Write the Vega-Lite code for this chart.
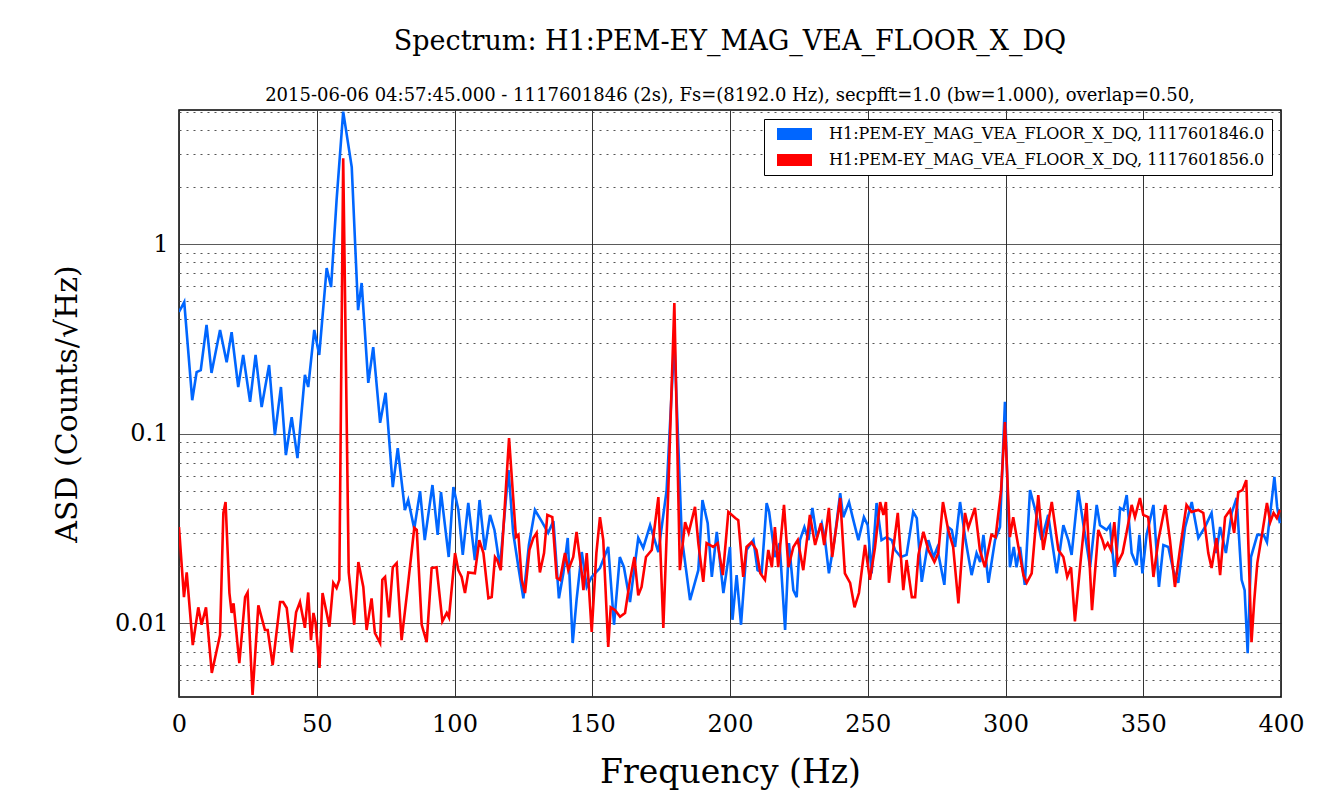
{
  "$schema": "https://vega.github.io/schema/vega-lite/v6.json",
  "width": 1102,
  "height": 587,
  "autosize": {"type": "none"},
  "padding": {"left": 179, "top": 110, "right": 60, "bottom": 102},
  "background": "white",
  "title": {
    "text": "Spectrum: H1:PEM-EY_MAG_VEA_FLOOR_X_DQ",
    "subtitle": "2015-06-06 04:57:45.000 - 1117601846 (2s), Fs=(8192.0 Hz), secpfft=1.0 (bw=1.000), overlap=0.50,",
    "font": "DejaVu Serif",
    "fontSize": 27,
    "fontWeight": "normal",
    "color": "#000",
    "subtitleFont": "DejaVu Serif",
    "subtitleFontSize": 18,
    "subtitleColor": "#000",
    "anchor": "middle",
    "offset": -6,
    "subtitlePadding": 31
  },
  "config": {
    "view": {"stroke": "#000", "strokeWidth": 1.5},
    "axis": {
      "labelFont": "DejaVu Serif",
      "titleFont": "DejaVu Serif",
      "labelColor": "#000",
      "titleColor": "#000",
      "titleFontWeight": "normal",
      "domain": false,
      "ticks": false
    }
  },
  "data": {
    "values": [
      {"t":"1117601846.0","f":0,"v":0.438},{"t":"1117601846.0","f":1.9,"v":0.494},{"t":"1117601846.0","f":4.8,"v":0.150},{"t":"1117601846.0","f":6.4,"v":0.211},{"t":"1117601846.0","f":7.9,"v":0.216},{"t":"1117601846.0","f":10,"v":0.374},{"t":"1117601846.0","f":11.8,"v":0.209},{"t":"1117601846.0","f":14.9,"v":0.352},{"t":"1117601846.0","f":17.3,"v":0.238},{"t":"1117601846.0","f":19.1,"v":0.343},{"t":"1117601846.0","f":21.5,"v":0.176},{"t":"1117601846.0","f":23.3,"v":0.260},{"t":"1117601846.0","f":25.8,"v":0.147},{"t":"1117601846.0","f":27.8,"v":0.260},{"t":"1117601846.0","f":30,"v":0.138},{"t":"1117601846.0","f":32.7,"v":0.230},{"t":"1117601846.0","f":34.8,"v":0.0982},{"t":"1117601846.0","f":37,"v":0.176},{"t":"1117601846.0","f":38.8,"v":0.0770},{"t":"1117601846.0","f":40.9,"v":0.122},{"t":"1117601846.0","f":43,"v":0.0742},{"t":"1117601846.0","f":45.7,"v":0.204},{"t":"1117601846.0","f":46.9,"v":0.176},{"t":"1117601846.0","f":49.1,"v":0.352},{"t":"1117601846.0","f":50.9,"v":0.260},{"t":"1117601846.0","f":53.6,"v":0.747},{"t":"1117601846.0","f":55.2,"v":0.593},{"t":"1117601846.0","f":57.2,"v":1.707},{"t":"1117601846.0","f":59.6,"v":5.0},{"t":"1117601846.0","f":62.7,"v":2.548},{"t":"1117601846.0","f":65,"v":0.448},{"t":"1117601846.0","f":66.3,"v":0.623},{"t":"1117601846.0","f":68.7,"v":0.185},{"t":"1117601846.0","f":70.5,"v":0.286},{"t":"1117601846.0","f":73,"v":0.114},{"t":"1117601846.0","f":75,"v":0.164},{"t":"1117601846.0","f":77.6,"v":0.0522},{"t":"1117601846.0","f":79.4,"v":0.0838},{"t":"1117601846.0","f":82,"v":0.0395},{"t":"1117601846.0","f":83.2,"v":0.0446},{"t":"1117601846.0","f":85.4,"v":0.0314},{"t":"1117601846.0","f":87.5,"v":0.0497},{"t":"1117601846.0","f":89.2,"v":0.0274},{"t":"1117601846.0","f":92,"v":0.0535},{"t":"1117601846.0","f":93.9,"v":0.0292},{"t":"1117601846.0","f":95.1,"v":0.0491},{"t":"1117601846.0","f":97.9,"v":0.0223},{"t":"1117601846.0","f":99.6,"v":0.0522},{"t":"1117601846.0","f":101.4,"v":0.0395},{"t":"1117601846.0","f":103,"v":0.0229},{"t":"1117601846.0","f":105,"v":0.0430},{"t":"1117601846.0","f":107.4,"v":0.0215},{"t":"1117601846.0","f":109.1,"v":0.0446},{"t":"1117601846.0","f":111,"v":0.0243},{"t":"1117601846.0","f":112.9,"v":0.0372},{"t":"1117601846.0","f":114.5,"v":0.0310},{"t":"1117601846.0","f":116.5,"v":0.0197},{"t":"1117601846.0","f":119.6,"v":0.0642},{"t":"1117601846.0","f":121.3,"v":0.0299},{"t":"1117601846.0","f":123.2,"v":0.0197},{"t":"1117601846.0","f":125,"v":0.0135},{"t":"1117601846.0","f":127,"v":0.0258},{"t":"1117601846.0","f":129.2,"v":0.0395},{"t":"1117601846.0","f":131.6,"v":0.0345},{"t":"1117601846.0","f":134,"v":0.0299},{"t":"1117601846.0","f":135.9,"v":0.0345},{"t":"1117601846.0","f":137.9,"v":0.0135},{"t":"1117601846.0","f":139.5,"v":0.0183},{"t":"1117601846.0","f":141.1,"v":0.0281},{"t":"1117601846.0","f":142.9,"v":0.00784},{"t":"1117601846.0","f":144.3,"v":0.0132},{"t":"1117601846.0","f":146.2,"v":0.0237},{"t":"1117601846.0","f":148,"v":0.0155},{"t":"1117601846.0","f":149.8,"v":0.0175},{"t":"1117601846.0","f":152.8,"v":0.0195},{"t":"1117601846.0","f":155.8,"v":0.0252},{"t":"1117601846.0","f":157.9,"v":0.00979},{"t":"1117601846.0","f":160,"v":0.0223},{"t":"1117601846.0","f":161.5,"v":0.0197},{"t":"1117601846.0","f":163.7,"v":0.0129},{"t":"1117601846.0","f":166.7,"v":0.0281},{"t":"1117601846.0","f":168.5,"v":0.0249},{"t":"1117601846.0","f":171,"v":0.0328},{"t":"1117601846.0","f":174,"v":0.0237},{"t":"1117601846.0","f":177,"v":0.0503},{"t":"1117601846.0","f":179.8,"v":0.311},{"t":"1117601846.0","f":182.5,"v":0.0284},{"t":"1117601846.0","f":185.5,"v":0.0132},{"t":"1117601846.0","f":188.5,"v":0.0190},{"t":"1117601846.0","f":190,"v":0.0446},{"t":"1117601846.0","f":191.9,"v":0.0336},{"t":"1117601846.0","f":193.4,"v":0.0175},{"t":"1117601846.0","f":195.2,"v":0.0303},{"t":"1117601846.0","f":197.6,"v":0.0144},{"t":"1117601846.0","f":200,"v":0.0252},{"t":"1117601846.0","f":200.9,"v":0.0104},{"t":"1117601846.0","f":202.4,"v":0.0179},{"t":"1117601846.0","f":204,"v":0.00979},{"t":"1117601846.0","f":206,"v":0.0243},{"t":"1117601846.0","f":208.5,"v":0.0274},{"t":"1117601846.0","f":210,"v":0.0190},{"t":"1117601846.0","f":211.5,"v":0.0185},{"t":"1117601846.0","f":213.3,"v":0.0430},{"t":"1117601846.0","f":214.2,"v":0.0386},{"t":"1117601846.0","f":216.3,"v":0.0223},{"t":"1117601846.0","f":218,"v":0.0264},{"t":"1117601846.0","f":220,"v":0.00919},{"t":"1117601846.0","f":221.4,"v":0.0264},{"t":"1117601846.0","f":223,"v":0.0149},{"t":"1117601846.0","f":224.2,"v":0.0137},{"t":"1117601846.0","f":225.4,"v":0.0274},{"t":"1117601846.0","f":227,"v":0.0321},{"t":"1117601846.0","f":228.5,"v":0.0274},{"t":"1117601846.0","f":229.9,"v":0.0405},{"t":"1117601846.0","f":231.5,"v":0.0284},{"t":"1117601846.0","f":233.3,"v":0.0336},{"t":"1117601846.0","f":234.5,"v":0.0274},{"t":"1117601846.0","f":235.9,"v":0.0183},{"t":"1117601846.0","f":237.9,"v":0.0274},{"t":"1117601846.0","f":240,"v":0.0485},{"t":"1117601846.0","f":241.1,"v":0.0362},{"t":"1117601846.0","f":243.2,"v":0.0435},{"t":"1117601846.0","f":244.5,"v":0.0362},{"t":"1117601846.0","f":246.6,"v":0.0274},{"t":"1117601846.0","f":248.6,"v":0.0362},{"t":"1117601846.0","f":250,"v":0.0328},{"t":"1117601846.0","f":251.4,"v":0.0183},{"t":"1117601846.0","f":253.2,"v":0.0430},{"t":"1117601846.0","f":255,"v":0.0274},{"t":"1117601846.0","f":256.8,"v":0.0284},{"t":"1117601846.0","f":258.7,"v":0.0274},{"t":"1117601846.0","f":259.9,"v":0.0243},{"t":"1117601846.0","f":262,"v":0.0223},{"t":"1117601846.0","f":264.1,"v":0.0229},{"t":"1117601846.0","f":266.5,"v":0.0386},{"t":"1117601846.0","f":267.8,"v":0.0358},{"t":"1117601846.0","f":269.6,"v":0.0165},{"t":"1117601846.0","f":272,"v":0.0274},{"t":"1117601846.0","f":273.9,"v":0.0223},{"t":"1117601846.0","f":275.2,"v":0.0249},{"t":"1117601846.0","f":277.8,"v":0.0159},{"t":"1117601846.0","f":279.2,"v":0.0321},{"t":"1117601846.0","f":280.5,"v":0.0310},{"t":"1117601846.0","f":281.7,"v":0.0252},{"t":"1117601846.0","f":283.5,"v":0.0435},{"t":"1117601846.0","f":285.5,"v":0.0274},{"t":"1117601846.0","f":287.7,"v":0.0179},{"t":"1117601846.0","f":289.5,"v":0.0234},{"t":"1117601846.0","f":290.8,"v":0.0210},{"t":"1117601846.0","f":292,"v":0.0292},{"t":"1117601846.0","f":293.8,"v":0.0163},{"t":"1117601846.0","f":296.2,"v":0.0274},{"t":"1117601846.0","f":298,"v":0.0321},{"t":"1117601846.0","f":299.8,"v":0.147},{"t":"1117601846.0","f":301.6,"v":0.0197},{"t":"1117601846.0","f":303,"v":0.0252},{"t":"1117601846.0","f":304,"v":0.0197},{"t":"1117601846.0","f":305.3,"v":0.0252},{"t":"1117601846.0","f":307,"v":0.0159},{"t":"1117601846.0","f":308.9,"v":0.0503},{"t":"1117601846.0","f":310.8,"v":0.0395},{"t":"1117601846.0","f":313.1,"v":0.0274},{"t":"1117601846.0","f":315.5,"v":0.0372},{"t":"1117601846.0","f":316.8,"v":0.0274},{"t":"1117601846.0","f":318.6,"v":0.0183},{"t":"1117601846.0","f":321,"v":0.0328},{"t":"1117601846.0","f":322.8,"v":0.0274},{"t":"1117601846.0","f":324,"v":0.0229},{"t":"1117601846.0","f":326.4,"v":0.0503},{"t":"1117601846.0","f":328.2,"v":0.0336},{"t":"1117601846.0","f":330.7,"v":0.0197},{"t":"1117601846.0","f":333.1,"v":0.0420},{"t":"1117601846.0","f":334.3,"v":0.0328},{"t":"1117601846.0","f":336.7,"v":0.0310},{"t":"1117601846.0","f":337.9,"v":0.0328},{"t":"1117601846.0","f":339.7,"v":0.0175},{"t":"1117601846.0","f":341.6,"v":0.0405},{"t":"1117601846.0","f":342.8,"v":0.0395},{"t":"1117601846.0","f":344,"v":0.0473},{"t":"1117601846.0","f":345.8,"v":0.0234},{"t":"1117601846.0","f":347.6,"v":0.0202},{"t":"1117601846.0","f":348.6,"v":0.0292},{"t":"1117601846.0","f":349.7,"v":0.0183},{"t":"1117601846.0","f":351.2,"v":0.0292},{"t":"1117601846.0","f":353.7,"v":0.0420},{"t":"1117601846.0","f":355.7,"v":0.0155},{"t":"1117601846.0","f":357.3,"v":0.0258},{"t":"1117601846.0","f":359.1,"v":0.0252},{"t":"1117601846.0","f":360.9,"v":0.0190},{"t":"1117601846.0","f":362.7,"v":0.0163},{"t":"1117601846.0","f":365.2,"v":0.0321},{"t":"1117601846.0","f":367.6,"v":0.0435},{"t":"1117601846.0","f":370,"v":0.0281},{"t":"1117601846.0","f":372.4,"v":0.0321},{"t":"1117601846.0","f":374.8,"v":0.0381},{"t":"1117601846.0","f":376.5,"v":0.0234},{"t":"1117601846.0","f":377.9,"v":0.0321},{"t":"1117601846.0","f":380,"v":0.0234},{"t":"1117601846.0","f":382.1,"v":0.0381},{"t":"1117601846.0","f":383.9,"v":0.0457},{"t":"1117601846.0","f":385.7,"v":0.0169},{"t":"1117601846.0","f":386.8,"v":0.0149},{"t":"1117601846.0","f":387.9,"v":0.00694},{"t":"1117601846.0","f":389.1,"v":0.0223},{"t":"1117601846.0","f":391.4,"v":0.0292},{"t":"1117601846.0","f":393.7,"v":0.0292},{"t":"1117601846.0","f":394.9,"v":0.0267},{"t":"1117601846.0","f":397.6,"v":0.0590},{"t":"1117601846.0","f":398.6,"v":0.0410},{"t":"1117601846.0","f":399.6,"v":0.0336},
      {"t":"1117601856.0","f":0,"v":0.0321},{"t":"1117601856.0","f":1.8,"v":0.0137},{"t":"1117601856.0","f":2.8,"v":0.0185},{"t":"1117601856.0","f":5,"v":0.00765},{"t":"1117601856.0","f":7,"v":0.0121},{"t":"1117601856.0","f":8.2,"v":0.00979},{"t":"1117601856.0","f":9.8,"v":0.0121},{"t":"1117601856.0","f":11.9,"v":0.00545},{"t":"1117601856.0","f":14.9,"v":0.00865},{"t":"1117601856.0","f":16.1,"v":0.0381},{"t":"1117601856.0","f":16.9,"v":0.0435},{"t":"1117601856.0","f":18.3,"v":0.0144},{"t":"1117601856.0","f":19.1,"v":0.0113},{"t":"1117601856.0","f":19.8,"v":0.0127},{"t":"1117601856.0","f":21.9,"v":0.00615},{"t":"1117601856.0","f":24,"v":0.0137},{"t":"1117601856.0","f":24.9,"v":0.0145},{"t":"1117601856.0","f":26.7,"v":0.00417},{"t":"1117601856.0","f":28.8,"v":0.0124},{"t":"1117601856.0","f":31.2,"v":0.00919},{"t":"1117601856.0","f":32.2,"v":0.00919},{"t":"1117601856.0","f":34,"v":0.0060},{"t":"1117601856.0","f":36.7,"v":0.0129},{"t":"1117601856.0","f":37.8,"v":0.0129},{"t":"1117601856.0","f":39.1,"v":0.0120},{"t":"1117601856.0","f":40.9,"v":0.00703},{"t":"1117601856.0","f":42.5,"v":0.0114},{"t":"1117601856.0","f":43.9,"v":0.0129},{"t":"1117601856.0","f":45.7,"v":0.00943},{"t":"1117601856.0","f":46.9,"v":0.0145},{"t":"1117601856.0","f":47.9,"v":0.00813},{"t":"1117601856.0","f":48.8,"v":0.0113},{"t":"1117601856.0","f":49.6,"v":0.0100},{"t":"1117601856.0","f":51,"v":0.00579},{"t":"1117601856.0","f":52.1,"v":0.0144},{"t":"1117601856.0","f":53.6,"v":0.0113},{"t":"1117601856.0","f":54.6,"v":0.00956},{"t":"1117601856.0","f":56,"v":0.0163},{"t":"1117601856.0","f":57.2,"v":0.0153},{"t":"1117601856.0","f":58.2,"v":0.0169},{"t":"1117601856.0","f":59.6,"v":2.84},{"t":"1117601856.0","f":61.6,"v":0.0185},{"t":"1117601856.0","f":63.6,"v":0.00979},{"t":"1117601856.0","f":65.1,"v":0.0210},{"t":"1117601856.0","f":66.9,"v":0.0155},{"t":"1117601856.0","f":68.1,"v":0.00919},{"t":"1117601856.0","f":69.9,"v":0.0135},{"t":"1117601856.0","f":71.1,"v":0.00886},{"t":"1117601856.0","f":73,"v":0.00784},{"t":"1117601856.0","f":73.8,"v":0.0169},{"t":"1117601856.0","f":74.8,"v":0.0175},{"t":"1117601856.0","f":76.2,"v":0.0107},{"t":"1117601856.0","f":77.6,"v":0.0197},{"t":"1117601856.0","f":79,"v":0.0207},{"t":"1117601856.0","f":80.8,"v":0.00813},{"t":"1117601856.0","f":82.9,"v":0.0149},{"t":"1117601856.0","f":85.4,"v":0.0318},{"t":"1117601856.0","f":86.3,"v":0.0310},{"t":"1117601856.0","f":88.1,"v":0.00979},{"t":"1117601856.0","f":89.9,"v":0.00793},{"t":"1117601856.0","f":91.7,"v":0.0195},{"t":"1117601856.0","f":93.5,"v":0.0197},{"t":"1117601856.0","f":95.6,"v":0.0102},{"t":"1117601856.0","f":97.2,"v":0.0113},{"t":"1117601856.0","f":98,"v":0.0107},{"t":"1117601856.0","f":100.2,"v":0.0234},{"t":"1117601856.0","f":101.4,"v":0.0190},{"t":"1117601856.0","f":102.6,"v":0.0175},{"t":"1117601856.0","f":103.8,"v":0.0144},{"t":"1117601856.0","f":105,"v":0.0185},{"t":"1117601856.0","f":107.4,"v":0.0183},{"t":"1117601856.0","f":109,"v":0.0274},{"t":"1117601856.0","f":110.5,"v":0.0234},{"t":"1117601856.0","f":112.3,"v":0.0135},{"t":"1117601856.0","f":113.5,"v":0.0137},{"t":"1117601856.0","f":114.7,"v":0.0223},{"t":"1117601856.0","f":115.5,"v":0.0215},{"t":"1117601856.0","f":116.8,"v":0.0190},{"t":"1117601856.0","f":119.8,"v":0.0947},{"t":"1117601856.0","f":122.3,"v":0.0284},{"t":"1117601856.0","f":123.2,"v":0.0292},{"t":"1117601856.0","f":124.4,"v":0.0169},{"t":"1117601856.0","f":125.6,"v":0.0144},{"t":"1117601856.0","f":127.2,"v":0.0243},{"t":"1117601856.0","f":128.6,"v":0.0281},{"t":"1117601856.0","f":129.8,"v":0.0299},{"t":"1117601856.0","f":131,"v":0.0185},{"t":"1117601856.0","f":132.5,"v":0.0234},{"t":"1117601856.0","f":133.7,"v":0.0372},{"t":"1117601856.0","f":135.5,"v":0.0362},{"t":"1117601856.0","f":137.1,"v":0.0173},{"t":"1117601856.0","f":138.3,"v":0.0169},{"t":"1117601856.0","f":140.1,"v":0.0234},{"t":"1117601856.0","f":141.3,"v":0.0190},{"t":"1117601856.0","f":143.1,"v":0.0223},{"t":"1117601856.0","f":144.3,"v":0.0303},{"t":"1117601856.0","f":146.2,"v":0.0183},{"t":"1117601856.0","f":146.8,"v":0.0149},{"t":"1117601856.0","f":148,"v":0.0234},{"t":"1117601856.0","f":149.8,"v":0.00897},{"t":"1117601856.0","f":151.5,"v":0.0234},{"t":"1117601856.0","f":152.8,"v":0.0362},{"t":"1117601856.0","f":154,"v":0.0274},{"t":"1117601856.0","f":155.8,"v":0.00747},{"t":"1117601856.0","f":156.7,"v":0.0121},{"t":"1117601856.0","f":158.3,"v":0.0117},{"t":"1117601856.0","f":160.1,"v":0.0108},{"t":"1117601856.0","f":161.9,"v":0.0113},{"t":"1117601856.0","f":163.7,"v":0.0169},{"t":"1117601856.0","f":165.3,"v":0.0223},{"t":"1117601856.0","f":166.7,"v":0.0140},{"t":"1117601856.0","f":167.9,"v":0.0155},{"t":"1117601856.0","f":169.5,"v":0.0223},{"t":"1117601856.0","f":171.6,"v":0.0243},{"t":"1117601856.0","f":174,"v":0.0462},{"t":"1117601856.0","f":175.8,"v":0.00943},{"t":"1117601856.0","f":177.6,"v":0.0503},{"t":"1117601856.0","f":179.8,"v":0.488},{"t":"1117601856.0","f":181.8,"v":0.0190},{"t":"1117601856.0","f":183.7,"v":0.0341},{"t":"1117601856.0","f":185,"v":0.0299},{"t":"1117601856.0","f":187.3,"v":0.0410},{"t":"1117601856.0","f":188.5,"v":0.0264},{"t":"1117601856.0","f":190.3,"v":0.0165},{"t":"1117601856.0","f":191.5,"v":0.0264},{"t":"1117601856.0","f":193.9,"v":0.0252},{"t":"1117601856.0","f":195.5,"v":0.0264},{"t":"1117601856.0","f":197.4,"v":0.0179},{"t":"1117601856.0","f":199.4,"v":0.0386},{"t":"1117601856.0","f":201.9,"v":0.0358},{"t":"1117601856.0","f":203,"v":0.0349},{"t":"1117601856.0","f":204.8,"v":0.0175},{"t":"1117601856.0","f":206,"v":0.0252},{"t":"1117601856.0","f":207.8,"v":0.0267},{"t":"1117601856.0","f":209.6,"v":0.0243},{"t":"1117601856.0","f":211,"v":0.0183},{"t":"1117601856.0","f":212.7,"v":0.0169},{"t":"1117601856.0","f":213.9,"v":0.0243},{"t":"1117601856.0","f":215.2,"v":0.0197},{"t":"1117601856.0","f":216.3,"v":0.0321},{"t":"1117601856.0","f":217.5,"v":0.0197},{"t":"1117601856.0","f":219.6,"v":0.0420},{"t":"1117601856.0","f":221.2,"v":0.0197},{"t":"1117601856.0","f":223,"v":0.0252},{"t":"1117601856.0","f":224.6,"v":0.0274},{"t":"1117601856.0","f":226.6,"v":0.0190},{"t":"1117601856.0","f":229,"v":0.0372},{"t":"1117601856.0","f":230.9,"v":0.0258},{"t":"1117601856.0","f":233,"v":0.0336},{"t":"1117601856.0","f":234.2,"v":0.0258},{"t":"1117601856.0","f":235.9,"v":0.0405},{"t":"1117601856.0","f":237.1,"v":0.0223},{"t":"1117601856.0","f":240,"v":0.0457},{"t":"1117601856.0","f":241.7,"v":0.0183},{"t":"1117601856.0","f":243.6,"v":0.0163},{"t":"1117601856.0","f":245.2,"v":0.0121},{"t":"1117601856.0","f":246.8,"v":0.0144},{"t":"1117601856.0","f":249,"v":0.0258},{"t":"1117601856.0","f":250.8,"v":0.0169},{"t":"1117601856.0","f":252.6,"v":0.0249},{"t":"1117601856.0","f":254.5,"v":0.0435},{"t":"1117601856.0","f":255.7,"v":0.0372},{"t":"1117601856.0","f":256.6,"v":0.0435},{"t":"1117601856.0","f":257.7,"v":0.0163},{"t":"1117601856.0","f":260.9,"v":0.0381},{"t":"1117601856.0","f":262.9,"v":0.0149},{"t":"1117601856.0","f":264.1,"v":0.0215},{"t":"1117601856.0","f":266,"v":0.0137},{"t":"1117601856.0","f":267.2,"v":0.0137},{"t":"1117601856.0","f":268.4,"v":0.0229},{"t":"1117601856.0","f":270.2,"v":0.0303},{"t":"1117601856.0","f":272,"v":0.0243},{"t":"1117601856.0","f":274.2,"v":0.0210},{"t":"1117601856.0","f":275.6,"v":0.0234},{"t":"1117601856.0","f":277.3,"v":0.0435},{"t":"1117601856.0","f":279.2,"v":0.0310},{"t":"1117601856.0","f":281,"v":0.0252},{"t":"1117601856.0","f":282.9,"v":0.0127},{"t":"1117601856.0","f":285.3,"v":0.0381},{"t":"1117601856.0","f":286.5,"v":0.0318},{"t":"1117601856.0","f":288.9,"v":0.0405},{"t":"1117601856.0","f":290.7,"v":0.0243},{"t":"1117601856.0","f":292.5,"v":0.0197},{"t":"1117601856.0","f":294.9,"v":0.0292},{"t":"1117601856.0","f":296.4,"v":0.0284},{"t":"1117601856.0","f":298.4,"v":0.0503},{"t":"1117601856.0","f":299.8,"v":0.115},{"t":"1117601856.0","f":301.6,"v":0.0284},{"t":"1117601856.0","f":302.8,"v":0.0362},{"t":"1117601856.0","f":304.7,"v":0.0252},{"t":"1117601856.0","f":306.5,"v":0.0179},{"t":"1117601856.0","f":307.7,"v":0.0163},{"t":"1117601856.0","f":309.5,"v":0.0183},{"t":"1117601856.0","f":311.9,"v":0.0473},{"t":"1117601856.0","f":313.7,"v":0.0243},{"t":"1117601856.0","f":316.8,"v":0.0435},{"t":"1117601856.0","f":319.2,"v":0.0243},{"t":"1117601856.0","f":321,"v":0.0223},{"t":"1117601856.0","f":322.4,"v":0.0175},{"t":"1117601856.0","f":323.8,"v":0.0197},{"t":"1117601856.0","f":325.2,"v":0.0102},{"t":"1117601856.0","f":327.3,"v":0.0215},{"t":"1117601856.0","f":329.4,"v":0.0430},{"t":"1117601856.0","f":331.4,"v":0.0117},{"t":"1117601856.0","f":333.7,"v":0.0310},{"t":"1117601856.0","f":335.2,"v":0.0274},{"t":"1117601856.0","f":336,"v":0.0249},{"t":"1117601856.0","f":337.1,"v":0.0264},{"t":"1117601856.0","f":338.3,"v":0.0243},{"t":"1117601856.0","f":339.5,"v":0.0341},{"t":"1117601856.0","f":340.7,"v":0.0207},{"t":"1117601856.0","f":342.5,"v":0.0234},{"t":"1117601856.0","f":344,"v":0.0303},{"t":"1117601856.0","f":345.8,"v":0.0420},{"t":"1117601856.0","f":347,"v":0.0362},{"t":"1117601856.0","f":348.8,"v":0.0457},{"t":"1117601856.0","f":350,"v":0.0372},{"t":"1117601856.0","f":351.8,"v":0.0362},{"t":"1117601856.0","f":353.7,"v":0.0175},{"t":"1117601856.0","f":355.5,"v":0.0274},{"t":"1117601856.0","f":358,"v":0.0420},{"t":"1117601856.0","f":359.7,"v":0.0274},{"t":"1117601856.0","f":361.5,"v":0.0155},{"t":"1117601856.0","f":363.3,"v":0.0243},{"t":"1117601856.0","f":365.7,"v":0.0420},{"t":"1117601856.0","f":367.5,"v":0.0386},{"t":"1117601856.0","f":370,"v":0.0395},{"t":"1117601856.0","f":371.8,"v":0.0381},{"t":"1117601856.0","f":373.6,"v":0.0234},{"t":"1117601856.0","f":374.8,"v":0.0195},{"t":"1117601856.0","f":376.6,"v":0.0281},{"t":"1117601856.0","f":377.9,"v":0.0179},{"t":"1117601856.0","f":379.7,"v":0.0362},{"t":"1117601856.0","f":381.5,"v":0.0395},{"t":"1117601856.0","f":383,"v":0.0299},{"t":"1117601856.0","f":384.5,"v":0.0491},{"t":"1117601856.0","f":386,"v":0.0503},{"t":"1117601856.0","f":387.4,"v":0.0568},{"t":"1117601856.0","f":388.3,"v":0.0223},{"t":"1117601856.0","f":389.3,"v":0.00793},{"t":"1117601856.0","f":390.3,"v":0.0132},{"t":"1117601856.0","f":391.4,"v":0.0207},{"t":"1117601856.0","f":393.2,"v":0.0299},{"t":"1117601856.0","f":394.9,"v":0.0430},{"t":"1117601856.0","f":396.1,"v":0.0341},{"t":"1117601856.0","f":397.3,"v":0.0381},{"t":"1117601856.0","f":398.5,"v":0.0358},{"t":"1117601856.0","f":399.6,"v":0.0395}
    ]
  },
  "mark": {"type": "line", "strokeWidth": 2.6, "clip": true},
  "encoding": {
    "x": {
      "field": "f",
      "type": "quantitative",
      "scale": {"domain": [0, 400], "nice": false, "zero": false},
      "axis": {
        "values": [0, 50, 100, 150, 200, 250, 300, 350, 400],
        "title": "Frequency (Hz)",
        "titleFontSize": 33,
        "titlePadding": 20,
        "labelFontSize": 24,
        "labelPadding": 15,
        "labelFlush": false,
        "gridColor": "#333",
        "gridWidth": 1,
        "gridOpacity": 1
      }
    },
    "y": {
      "field": "v",
      "type": "quantitative",
      "scale": {"type": "log", "domain": [0.00407, 5.1], "nice": false},
      "axis": {
        "values": [0.005, 0.006, 0.007, 0.008, 0.009, 0.01, 0.02, 0.03, 0.04, 0.05, 0.06, 0.07, 0.08, 0.09, 0.1, 0.2, 0.3, 0.4, 0.5, 0.6, 0.7, 0.8, 0.9, 1, 2, 3, 4, 5],
        "labelExpr": "datum.value == 1 ? '1' : (datum.value == 0.1 ? '0.1' : (datum.value == 0.01 ? '0.01' : ''))",
        "title": "ASD (Counts/√Hz)",
        "titleFontSize": 30,
        "titlePadding": 32,
        "labelFontSize": 24,
        "labelPadding": 11,
        "labelFlush": false,
        "labelOverlap": false,
        "gridDash": {"condition": {"test": "datum.value == 1 || datum.value == 0.1 || datum.value == 0.01", "value": [1, 0]}, "value": [2, 5]},
        "gridColor": {"condition": {"test": "datum.value == 1 || datum.value == 0.1 || datum.value == 0.01", "value": "#222"}, "value": "#555"},
        "gridWidth": 1,
        "gridOpacity": 1
      }
    },
    "color": {
      "field": "t",
      "type": "nominal",
      "scale": {"domain": ["1117601846.0", "1117601856.0"], "range": ["#0066ff", "#ff0000"]},
      "legend": {
        "title": null,
        "orient": "top-right",
        "offset": 9,
        "labelExpr": "'H1:PEM-EY_MAG_VEA_FLOOR_X_DQ, ' + datum.label",
        "labelFont": "DejaVu Serif",
        "labelFontSize": 16,
        "labelColor": "#000",
        "labelLimit": 700,
        "labelOffset": 11,
        "symbolType": "stroke",
        "symbolSize": 1225,
        "symbolStrokeWidth": 12,
        "clipHeight": 16,
        "rowPadding": 10,
        "padding": 7,
        "fillColor": "white",
        "strokeColor": "#000"
      }
    }
  }
}
